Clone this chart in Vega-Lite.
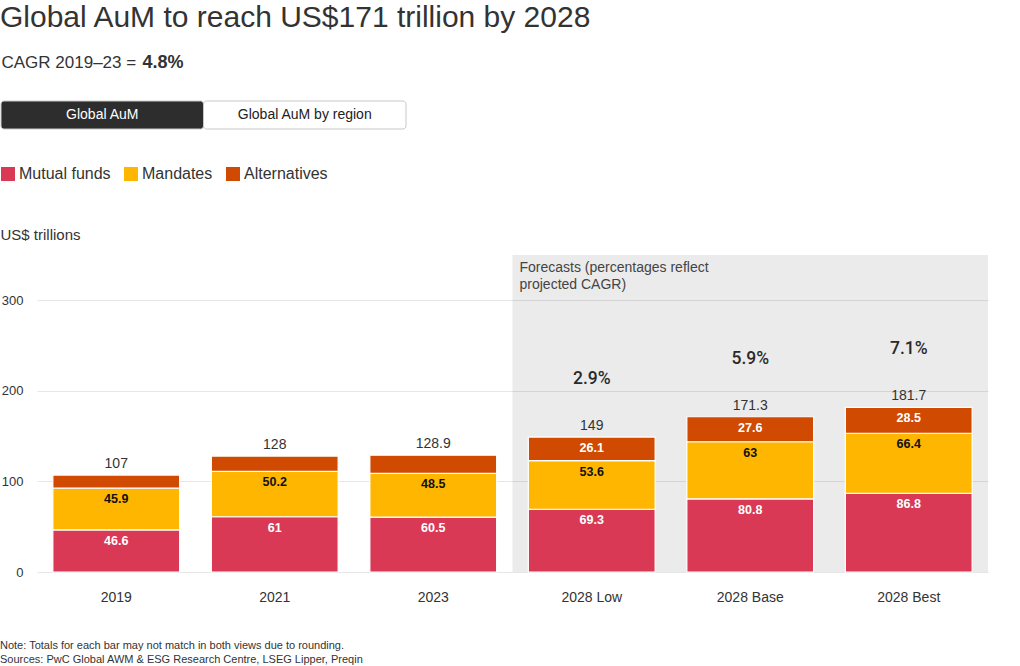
{
  "$schema": "https://vega.github.io/schema/vega-lite/v6.json",
  "config": {"font": "Liberation Sans", "view": {"stroke": null}},
  "padding": {"left": 0, "top": 3, "right": 10, "bottom": 0},
  "title": {
    "text": "Global AuM to reach US$171 trillion by 2028",
    "anchor": "start",
    "frame": "bounds",
    "fontSize": 30,
    "fontWeight": "normal",
    "color": "#333333",
    "offset": 20
  },
  "datasets": {
    "buttons": [
      {"button": "Global AuM"},
      {"button": "Global AuM by region"}
    ],
    "segments": [
      {"year": "2019", "period": "Actual", "type": "Mutual funds", "value": 46.6},
      {"year": "2019", "period": "Actual", "type": "Mandates", "value": 45.9},
      {"year": "2019", "period": "Actual", "type": "Alternatives", "value": 14.5},
      {"year": "2021", "period": "Actual", "type": "Mutual funds", "value": 61},
      {"year": "2021", "period": "Actual", "type": "Mandates", "value": 50.2},
      {"year": "2021", "period": "Actual", "type": "Alternatives", "value": 16.8},
      {"year": "2023", "period": "Actual", "type": "Mutual funds", "value": 60.5},
      {"year": "2023", "period": "Actual", "type": "Mandates", "value": 48.5},
      {"year": "2023", "period": "Actual", "type": "Alternatives", "value": 19.9},
      {"year": "2028 Low", "period": "Forecast", "type": "Mutual funds", "value": 69.3},
      {"year": "2028 Low", "period": "Forecast", "type": "Mandates", "value": 53.6},
      {"year": "2028 Low", "period": "Forecast", "type": "Alternatives", "value": 26.1},
      {"year": "2028 Base", "period": "Forecast", "type": "Mutual funds", "value": 80.8},
      {"year": "2028 Base", "period": "Forecast", "type": "Mandates", "value": 63},
      {"year": "2028 Base", "period": "Forecast", "type": "Alternatives", "value": 27.6},
      {"year": "2028 Best", "period": "Forecast", "type": "Mutual funds", "value": 86.8},
      {"year": "2028 Best", "period": "Forecast", "type": "Mandates", "value": 66.4},
      {"year": "2028 Best", "period": "Forecast", "type": "Alternatives", "value": 28.5}
    ],
    "totals": [
      {"year": "2019", "total": 107, "cagr": null},
      {"year": "2021", "total": 128, "cagr": null},
      {"year": "2023", "total": 128.9, "cagr": null},
      {"year": "2028 Low", "total": 149, "cagr": "2.9%"},
      {"year": "2028 Base", "total": 171.3, "cagr": "5.9%"},
      {"year": "2028 Best", "total": 181.7, "cagr": "7.1%"}
    ],
    "forecast": [
      {"start": "2028 Low", "end": "2028 Best", "note": "Forecasts (percentages reflect\nprojected CAGR)"}
    ]
  },
  "columns": 1,
  "align": "none",
  "spacing": 36,
  "resolve": {"scale": {"color": "independent"}, "legend": {"color": "independent"}},
  "concat": [
    {
      "width": 405,
      "height": 28,
      "data": {"name": "buttons"},
      "layer": [
        {
          "mark": {"type": "bar", "cornerRadius": 3, "stroke": "#c8c8c8", "strokeWidth": 1},
          "encoding": {
            "x": {"field": "button", "type": "nominal", "scale": {"domain": ["Global AuM", "Global AuM by region"], "range": [-36, 369], "paddingInner": 0, "paddingOuter": 0},
              "axis": {"orient": "top", "labels": false, "ticks": false, "domain": false, "grid": false, "title": "CAGR 2019–23 =", "titleFontSize": 17, "titleFontWeight": "normal", "titleColor": "#333333", "titleAlign": "left", "titleBaseline": "alphabetic", "titleAngle": 0, "titleX": -36, "titleY": -34}},
            "color": {"condition": {"test": "datum.button === 'Global AuM'", "value": "#2d2d2d"}, "value": "#ffffff"}
          }
        },
        {
          "mark": {"type": "text", "fontSize": 14},
          "encoding": {
            "x": {"field": "button", "type": "nominal"},
            "y": {"datum": "buttons", "type": "nominal",
              "axis": {"labels": false, "ticks": false, "domain": false, "grid": false, "title": "4.8%", "titleFontSize": 18, "titleFontWeight": "bold", "titleColor": "#333333", "titleAlign": "left", "titleBaseline": "alphabetic", "titleAngle": 0, "titleX": 105, "titleY": -34}},
            "text": {"field": "button", "type": "nominal"},
            "color": {"condition": {"test": "datum.button === 'Global AuM'", "value": "#ffffff"}, "value": "#222222"}
          }
        }
      ]
    },
    {
      "width": 951,
      "height": 317,
      "title": {
        "text": "Note: Totals for each bar may not match in both views due to rounding.",
        "subtitle": "Sources: PwC Global AWM & ESG Research Centre, LSEG Lipper, Preqin",
        "orient": "bottom",
        "anchor": "start",
        "frame": "bounds",
        "fontSize": 11,
        "fontWeight": "normal",
        "color": "#333333",
        "subtitleFontSize": 11,
        "subtitleColor": "#333333",
        "subtitlePadding": 3,
        "offset": 36
      },
      "layer": [
        {
          "data": {"name": "forecast"},
          "mark": {"type": "rect", "fill": "#000000", "opacity": 0.08},
          "encoding": {
            "x": {"field": "start", "type": "nominal", "bandPosition": -0.125,
              "axis": {"title": null, "bandPosition": 0.5, "labelAngle": 0, "labelFontSize": 14, "labelColor": "#333333", "labelPadding": 18, "ticks": false, "domain": false, "grid": false}},
            "x2": {"field": "end", "bandPosition": 1.125},
            "y": {"datum": 350, "type": "quantitative"},
            "y2": {"datum": 0}
          }
        },
        {
          "data": {"name": "forecast"},
          "mark": {"type": "text", "align": "left", "baseline": "top", "dx": 7, "dy": 6, "fontSize": 14, "color": "#444444", "lineBreak": "\n", "lineHeight": 17},
          "encoding": {
            "x": {"field": "start", "type": "nominal", "bandPosition": -0.125},
            "y": {"datum": 350, "type": "quantitative"},
            "text": {"field": "note", "type": "nominal"}
          }
        },
        {
          "data": {"name": "segments"},
          "mark": {"type": "bar", "stroke": "#ffffff", "strokeWidth": 1.2},
          "encoding": {
            "x": {
              "field": "year", "type": "nominal",
              "scale": {"domain": ["2019", "2021", "2023", "2028 Low", "2028 Base", "2028 Best"], "paddingInner": 0.2, "paddingOuter": 0.1},
              "axis": {"title": null, "bandPosition": 0.5, "labelAngle": 0, "labelFontSize": 14, "labelColor": "#333333", "labelPadding": 18, "ticks": false, "domain": false, "grid": false}
            },
            "y": {
              "field": "value", "type": "quantitative", "stack": "zero",
              "scale": {"domain": [0, 350], "nice": false},
              "axis": {"title": "US$ trillions", "values": [0, 100, 200, 300], "ticks": false, "domain": false, "grid": true, "gridColor": "#e6e6e6", "labelFontSize": 13, "labelColor": "#333333", "labelPadding": 14, "titleAngle": 0, "titleAlign": "left", "titleBaseline": "middle", "titleX": -37, "titleY": -21, "titleFontSize": 15, "titleFontWeight": "normal", "titleColor": "#333333"}
            },
            "color": {
              "field": "type", "type": "nominal",
              "sort": ["Mutual funds", "Mandates", "Alternatives"],
              "scale": {"domain": ["Mutual funds", "Mandates", "Alternatives"], "range": ["#d93954", "#ffb600", "#d04a02"]},
              "legend": {"title": null, "orient": "none", "legendX": -37, "legendY": -89, "direction": "horizontal", "symbolType": "square", "symbolSize": 196, "symbolStrokeWidth": 0, "symbolOpacity": 1, "labelFontSize": 16, "labelColor": "#333333", "labelOffset": 3, "columnPadding": 12}
            },
            "order": {"field": "type", "sort": "descending"}
          }
        },
        {
          "data": {"name": "segments"},
          "transform": [
            {"stack": "value", "groupby": ["year"], "sort": [{"field": "type", "order": "descending"}], "as": ["v0", "v1"]},
            {"filter": "datum.type === 'Mutual funds' || (datum.type === 'Alternatives' && datum.period === 'Forecast')"}
          ],
          "mark": {"type": "text", "color": "#ffffff", "fontWeight": "bold", "fontSize": 12.5, "baseline": "alphabetic", "dy": 15},
          "encoding": {
            "x": {"field": "year", "type": "nominal"},
            "y": {"field": "v1", "type": "quantitative"},
            "text": {"field": "value", "type": "nominal"}
          }
        },
        {
          "data": {"name": "segments"},
          "transform": [
            {"stack": "value", "groupby": ["year"], "sort": [{"field": "type", "order": "descending"}], "as": ["v0", "v1"]},
            {"filter": "datum.type === 'Mandates'"}
          ],
          "mark": {"type": "text", "color": "#111111", "fontWeight": "bold", "fontSize": 12.5, "baseline": "alphabetic", "dy": 15},
          "encoding": {
            "x": {"field": "year", "type": "nominal"},
            "y": {"field": "v1", "type": "quantitative"},
            "text": {"field": "value", "type": "nominal"}
          }
        },
        {
          "data": {"name": "totals"},
          "mark": {"type": "text", "fontSize": 14, "color": "#333333", "baseline": "alphabetic", "dy": -7},
          "encoding": {
            "x": {"field": "year", "type": "nominal"},
            "y": {"field": "total", "type": "quantitative"},
            "text": {"field": "total", "type": "nominal"}
          }
        },
        {
          "data": {"name": "totals"},
          "transform": [{"filter": "datum.cagr != null"}],
          "mark": {"type": "text", "font": "Roboto", "fontWeight": 500, "fontSize": 17.5, "color": "#2a2a2a", "baseline": "alphabetic", "dy": -53},
          "encoding": {
            "x": {"field": "year", "type": "nominal"},
            "y": {"field": "total", "type": "quantitative"},
            "text": {"field": "cagr", "type": "nominal"}
          }
        }
      ]
    }
  ]
}
